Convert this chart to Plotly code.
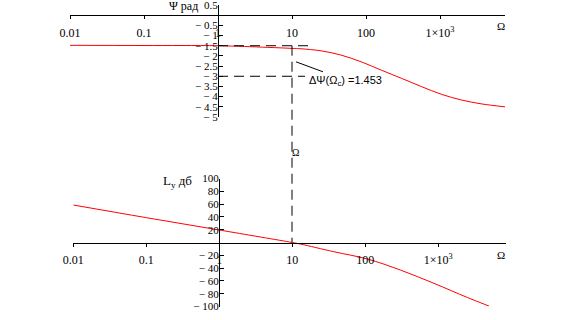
import plotly.graph_objects as go

W, H = 564, 320

# ---- data ----
omega_psi = [0.01, 0.1, 1, 4.7, 10, 13.2, 24.7, 46, 86, 161, 301, 564, 1054, 1972, 3689, 7550]
psi = [-1.48, -1.49, -1.5, -1.58, -1.63, -1.65, -1.75, -1.96, -2.29, -2.70, -3.10, -3.51, -3.89, -4.17, -4.36, -4.50]

omega_L = [0.01, 0.1, 1, 10, 13, 37, 107, 302, 871, 2510, 4930]
L_db = [58.6, 38.8, 19.5, 0.0, -2.5, -14.4, -25.8, -43.0, -63.8, -86.0, -99.2]

x_tickvals = [0.01, 0.1, 1, 10, 100, 1000]
x_ticktext = ["0.01", "0.1", "1", "10", "100", "1×10<sup>3</sup>"]

psi_tickvals = [0.5, -0.5, -1, -1.5, -2, -2.5, -3, -3.5, -4, -4.5, -5]
psi_ticktext = ["0.5"] + ["\u2212 " + ("%g" % abs(v)) for v in psi_tickvals[1:]]

L_tickvals = [100, 80, 60, 40, 20, -20, -40, -60, -80, -100]
L_ticktext = [("%d" % v) if v > 0 else "\u2212 %d" % abs(v) for v in L_tickvals]

omega_c = 10
psi_marker_levels = [-1.5, -3.0]
psi_marker_ends = [17.5, 15]
delta_psi = 1.453

# ---- layout geometry (pixels -> paper) ----
def px(x):
    return x / W

def py(y):
    return 1 - y / H

top_ydom = [py(117), py(5)]
top_yrng = [-5, 0.5]
bot_ydom = [py(306.5), py(178.5)]
bot_yrng = [-100, 100]

def to_paper_y(v, dom, rng):
    return dom[0] + (v - rng[0]) / (rng[1] - rng[0]) * (dom[1] - dom[0])

serif = "Liberation Serif"
sans = "Liberation Sans"
red = "#ff0000"

fig = go.Figure()
fig.add_trace(go.Scatter(x=omega_psi, y=psi, mode="lines", line=dict(color=red, width=1, shape="spline"),
                         xaxis="x", yaxis="y", showlegend=False, hoverinfo="skip"))
fig.add_trace(go.Scatter(x=omega_L, y=L_db, mode="lines", line=dict(color=red, width=1, shape="spline"),
                         xaxis="x2", yaxis="y2", showlegend=False, hoverinfo="skip"))

common_x = dict(type="log", showline=True, linecolor="#000", linewidth=1, ticks="outside", ticklen=3,
                tickcolor="#000", showgrid=False, zeroline=False, tickvals=x_tickvals, ticktext=x_ticktext,
                tickfont=dict(family=serif, size=12, color="#000"), anchor="free", ticklabelstandoff=3,
                automargin=False, ticklabeloverflow="allow")
common_y = dict(showline=True, linecolor="#000", linewidth=1, ticks="inside", ticklen=4, tickcolor="#000",
                showgrid=False, zeroline=False, tickfont=dict(family=serif, size=11, color="#000"),
                anchor="free", automargin=False, ticklabeloverflow="allow", ticklabelstandoff=-2)

fig.update_layout(
    width=W, height=H, margin=dict(l=0, r=0, t=0, b=0, autoexpand=False),
    paper_bgcolor="white", plot_bgcolor="white",
    xaxis=dict(common_x, domain=[px(70), px(505)], range=[-2, 3.878],
               position=to_paper_y(0, top_ydom, top_yrng)),
    yaxis=dict(common_y, domain=top_ydom, range=top_yrng, position=px(218),
               tickvals=psi_tickvals, ticktext=psi_ticktext),
    xaxis2=dict(common_x, domain=[px(73.3), px(505.7)], range=[-2, 3.923],
                position=to_paper_y(0, bot_ydom, bot_yrng)),
    yaxis2=dict(common_y, domain=bot_ydom, range=bot_yrng, position=px(219),
                tickvals=L_tickvals, ticktext=L_ticktext),
)

dash = "10px,6px"
shapes = []
# vertical marker at omega_c spanning both plots
shapes.append(dict(type="line", xref="x", yref="paper", x0=omega_c, x1=omega_c,
                   y0=to_paper_y(psi_marker_levels[0], top_ydom, top_yrng),
                   y1=to_paper_y(0, bot_ydom, bot_yrng),
                   line=dict(color="#000", width=1, dash=dash)))
for lev, xe in zip(psi_marker_levels, psi_marker_ends):
    shapes.append(dict(type="line", xref="x", yref="y", x0=1, x1=xe, y0=lev, y1=lev,
                       line=dict(color="#000", width=1, dash=dash)))
# leader line of the annotation
shapes.append(dict(type="line", xref="x", yref="y", x0=11.3, x1=26.2, y0=-2.29, y1=-2.78,
                   line=dict(color="#000", width=1)))
fig.update_layout(shapes=shapes)

ann = []
ann.append(dict(text="\u0394\u03a8(\u03a9<sub>c</sub>) =%.3f" % delta_psi, xref="paper", yref="paper",
                x=px(307), y=py(81), xanchor="left", yanchor="middle", showarrow=False,
                font=dict(family=sans, size=11, color="#000")))
ann.append(dict(text="\u03a8 рад", xref="paper", yref="paper", x=px(167), y=py(6),
                xanchor="left", yanchor="middle", showarrow=False,
                font=dict(family=serif, size=12, color="#000")))
ann.append(dict(text="L<sub>у</sub> дб", xref="paper", yref="paper", x=px(161), y=py(181),
                xanchor="left", yanchor="middle", showarrow=False,
                font=dict(family=serif, size=13, color="#000")))
for yy in (26, 255):
    ann.append(dict(text="\u03a9", xref="paper", yref="paper", x=px(501), y=py(yy),
                    xanchor="center", yanchor="middle", showarrow=False,
                    font=dict(family=serif, size=11, color="#000")))
ann.append(dict(text="\u03a9", xref="paper", yref="paper", x=px(295), y=py(152),
                xanchor="center", yanchor="middle", showarrow=False,
                font=dict(family=serif, size=10, color="#000")))
fig.update_layout(annotations=ann)

fig.write_html("out.html")
